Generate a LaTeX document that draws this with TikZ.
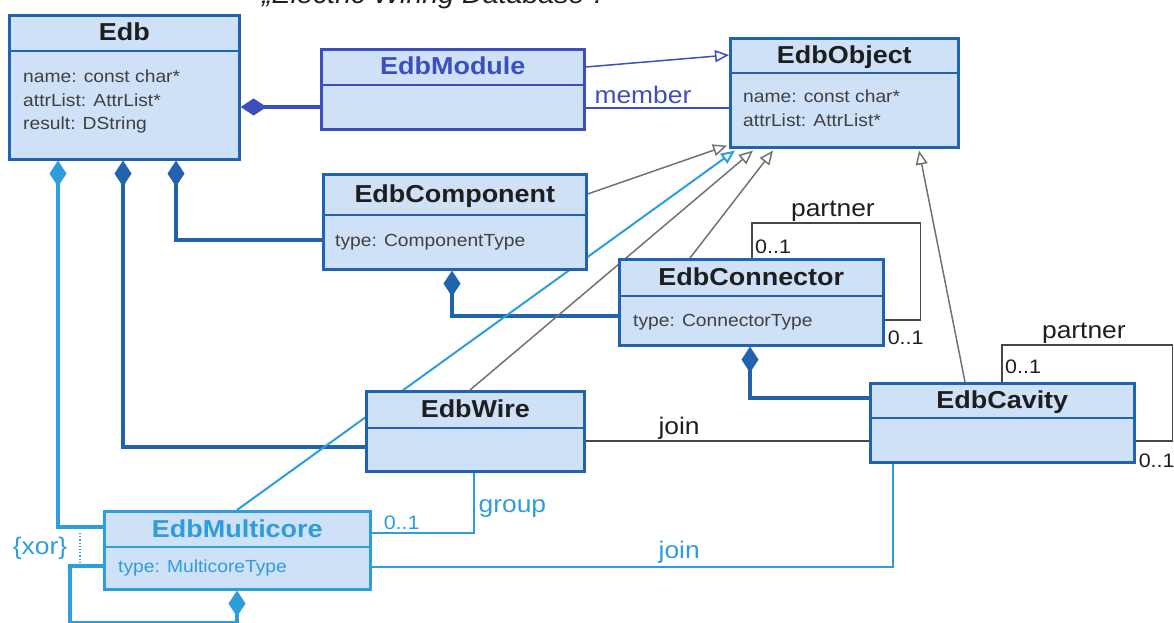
\documentclass[tikz,border=0pt]{standalone}
\usepackage{fontspec}
\setmainfont{Liberation Sans}[FakeStretch=1.1]
\usetikzlibrary{arrows.meta,calc,backgrounds}

\definecolor{boxfill}{HTML}{CFE1F6}
\definecolor{darkblue}{HTML}{2163AD}
\definecolor{indigo}{HTML}{3D4FBF}
\definecolor{skyblue}{HTML}{2E9DDB}
\definecolor{genGray}{HTML}{6E7378}
\definecolor{txt}{HTML}{1E1E1E}

\tikzset{
  classbox/.style={draw=darkblue, line width=2.6pt, fill=boxfill, inner sep=0pt, anchor=north west},
  clsname/.style={font=\fontsize{24.5}{28}\selectfont\bfseries, text=txt, inner sep=0pt, anchor=base},
  attr/.style={font=\fontsize{17.5}{23.5}\selectfont, text=txt!85, align=left, anchor=north west, inner sep=0pt},
  comp/.style={draw=darkblue, line width=3.2pt, {Diamond[length=26pt,width=17pt]}-},
  gen/.style={draw=genGray, line width=1.5pt, -{Triangle[length=14pt,width=12pt,fill=white]}},
  assoc/.style={draw=black!72, line width=1.3pt},
  lbl/.style={font=\fontsize{24}{28}\selectfont, inner sep=0pt, text=txt},
  mult/.style={font=\fontsize{19.5}{22}\selectfont, inner sep=0pt, text=txt},
}

% class box: name, north-west corner, width, height, header height, title, frame colour, title colour
\newcommand\umlclass[8]{%
  \node[classbox, draw=#7, minimum width=#3pt, minimum height=#4pt] (#1) at (#2) {};
  \draw[draw=#7, line width=2.6pt] ($(#1.north west)+(0,#5)$) -- ($(#1.north east)+(0,#5)$);
  \node[clsname, text=#8] (#1-title) at ($(#1.north)+(0,#5/2+8.5)$) {#6};
}

\begin{document}
\begin{tikzpicture}[x=1pt,y=-1pt]
\useasboundingbox (0,0) rectangle (1174,623);
\clip (0,0) rectangle (1174,623);

% caption line, cut by the page edge
\node[font=\fontsize{26}{30}\selectfont\itshape, anchor=base west, text=txt, inner sep=0pt] (caption) at (262,4) {„Electric Wiring Database“.};

% ---------- classes ----------
\umlclass{edb}{8,14}{230}{144}{37}{Edb}{darkblue}{txt}
\umlclass{module}{320,48}{263}{80}{37}{EdbModule}{indigo}{indigo}
\umlclass{object}{729,37}{228}{109}{36}{EdbObject}{darkblue}{txt}
\umlclass{component}{322,173}{263}{95}{42}{EdbComponent}{darkblue}{txt}
\umlclass{connector}{618,258}{264}{86}{38}{EdbConnector}{darkblue}{txt}
\umlclass{wire}{365,390}{218}{80}{38}{EdbWire}{darkblue}{txt}
\umlclass{cavity}{869,382}{264}{79}{36}{EdbCavity}{darkblue}{txt}
\umlclass{multicore}{103,510}{266}{78}{37}{EdbMulticore}{skyblue}{skyblue}

\node[attr] (edb-attr) at ($(edb.north west)+(15,56)$) {name: const char*\\attrList: AttrList*\\result: DString};
\node[attr] (object-attr) at ($(object.north west)+(14,53)$) {name: const char*\\attrList: AttrList*};
\node[attr] (component-attr) at ($(component.north west)+(13,61)$) {type: ComponentType};
\node[attr] (connector-attr) at ($(connector.north west)+(15,56)$) {type: ConnectorType};
\node[attr, text=skyblue] (multicore-attr) at ($(multicore.north west)+(15,50)$) {type: MulticoreType};

% ---------- connectors, kept behind the class boxes ----------
\begin{pgfonlayer}{background}
% compositions
\draw[comp, draw=indigo] ($(edb.north east)+(0,93)$) -- ($(module.north west)+(0,59)$);
\draw[comp] ($(edb.south west)+(168,0)$) |- ($(component.north west)+(0,67)$);
\draw[comp] ($(edb.south west)+(115,0)$) |- ($(wire.north west)+(0,57)$);
\draw[comp, draw=skyblue] ($(edb.south west)+(50,0)$) |- ($(multicore.north west)+(0,17)$);
\draw[comp] ($(component.south west)+(130,0)$) |- ($(connector.north west)+(0,58)$);
\draw[comp] ($(connector.south west)+(132,0)$) |- ($(cavity.north west)+(0,16)$);
\coordinate (mc-loop) at ($(multicore.south west)+(-33,32)$);
\draw[comp, draw=skyblue] ($(multicore.south west)+(134,0)$) |- (mc-loop) |- ($(multicore.north west)+(0,56)$);

% generalizations
\draw[gen, draw=indigo] ($(module.north east)+(0,19)$) -- ($(object.north west)+(0,18)$);
\draw[gen] ($(component.north east)+(0,21)$) -- ($(object.south west)+(-2,-3)$);
\draw[gen, draw=skyblue, line width=2pt] ($(multicore.north west)+(134,0)$) -- ($(object.south west)+(6,2)$);
\draw[gen] ($(wire.north west)+(105,0)$) -- ($(object.south west)+(24,2)$);
\draw[gen] ($(connector.north west)+(72,0)$) -- ($(object.south west)+(44,2)$);
\draw[gen] ($(cavity.north west)+(96,0)$) -- ($(object.south west)+(190,2)$);

% associations
\draw[assoc, draw=indigo] ($(module.north east)+(0,60)$) -- node[lbl, text=indigo, pos=0.40, above=4pt] {member} ($(object.north west)+(0,71)$);
\draw[assoc] ($(wire.north east)+(0,51)$) -- node[lbl, pos=0.33, above=1pt] {join} ($(cavity.north west)+(0,59)$);
\draw[assoc] ($(connector.north west)+(134,0)$) |- node[lbl, pos=0.74, above=1pt] {partner} ($(connector.north east)+(36,-35)$) |- ($(connector.north east)+(0,62)$);
\draw[assoc] ($(cavity.north west)+(133,0)$) |- node[lbl, pos=0.74, above=1pt] {partner} ($(cavity.north east)+(37,-37)$) |- ($(cavity.north east)+(0,59)$);
\draw[assoc, draw=skyblue] ($(wire.south west)+(109,0)$) |- node[lbl, text=skyblue, pos=0.30, right=4pt] {group} ($(multicore.north east)+(0,23)$);
\draw[assoc, draw=skyblue] ($(multicore.north east)+(0,57)$) -| node[lbl, text=skyblue, pos=0.295, above=3pt] {join} ($(cavity.south west)+(24,0)$);

% xor constraint between the two Edb compositions
\draw[skyblue, dotted, line width=1.2pt] ($(multicore.north west)+(-23,23)$) -- ($(multicore.north west)+(-23,52)$);
\end{pgfonlayer}

% multiplicities and constraint text
\node[mult, anchor=south west] (cn-m1) at ($(connector.north west)+(137,-4)$) {0..1};
\node[mult, anchor=north west] (cn-m2) at ($(connector.north east)+(3,73)$) {0..1};
\node[mult, anchor=south west] (cv-m1) at ($(cavity.north west)+(136,-8)$) {0..1};
\node[mult, anchor=north west] (cv-m2) at ($(cavity.north east)+(3,72)$) {0..1};
\node[mult, text=skyblue, anchor=south west] (gr-m) at ($(multicore.north east)+(12,20)$) {0..1};
\node[lbl, text=skyblue] (xor) at (40,548) {\{xor\}};
\end{tikzpicture}
\end{document}
